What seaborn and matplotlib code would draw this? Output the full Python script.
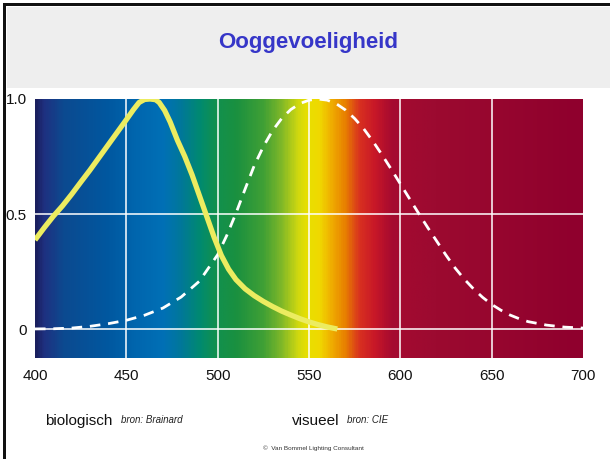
import numpy as np
import pandas as pd
import matplotlib
matplotlib.use("Agg")
import matplotlib.pyplot as plt
from matplotlib.colors import LinearSegmentedColormap
from matplotlib.patches import Rectangle
import seaborn as sns

# ---- data ----
bio_wl = [400, 405, 410, 415, 420, 425, 430, 435, 440, 445, 450, 454, 457, 460, 463, 466, 468,
          471, 474, 478, 482, 486, 490, 494, 498, 502, 506, 510, 515, 520, 525, 530, 535, 540,
          545, 550, 555, 560, 565.5]
bio_val = [0.387, 0.44, 0.49, 0.535, 0.585, 0.638, 0.69, 0.745, 0.80, 0.855, 0.91, 0.955, 0.985,
           0.998, 1.0, 0.997, 0.985, 0.95, 0.90, 0.82, 0.75, 0.67, 0.58, 0.49, 0.40, 0.32, 0.26,
           0.215, 0.175, 0.145, 0.12, 0.098, 0.078, 0.061, 0.045, 0.031, 0.019, 0.009, 0.0]

vis_wl = [400, 410, 420, 430, 440, 450, 460, 470, 480, 490, 500, 505, 510, 515, 520, 525, 530,
          535, 540, 545, 550, 555, 560, 565, 570, 575, 580, 585, 590, 595, 600, 605, 610, 615,
          620, 625, 630, 635, 640, 645, 650, 655, 660, 665, 670, 680, 690, 700]
vis_val = [0.0004, 0.0012, 0.004, 0.0116, 0.023, 0.038, 0.060, 0.091, 0.139, 0.208, 0.323, 0.407,
           0.503, 0.608, 0.710, 0.793, 0.862, 0.915, 0.954, 0.980, 0.995, 1.0, 0.995, 0.979, 0.952,
           0.915, 0.870, 0.816, 0.757, 0.695, 0.631, 0.567, 0.503, 0.441, 0.381, 0.321, 0.265,
           0.217, 0.175, 0.138, 0.107, 0.082, 0.061, 0.045, 0.032, 0.017, 0.0082, 0.0041]

x_ticks = [400, 450, 500, 550, 600, 650, 700]
y_ticks = [0, 0.5, 1.0]
y_tick_labels = ["0", "0.5", "1.0"]

title = "Ooggevoeligheid"
label_bio = "biologisch"
src_bio = "bron: Brainard"
label_vis = "visueel"
src_vis = "bron: CIE"
copyright_text = "\u00a9  Van Bommel Lighting Consultant"

# spectrum colour stops (wavelength, colour)
spec_wl = [400, 404, 415, 440, 455, 470, 480, 490, 498, 510, 525, 535, 544, 549, 556, 562, 570, 578, 586, 596, 620, 700]
spec_col = ["#1a1f5e", "#1f3080", "#0c4a90", "#0058a0", "#0066ae", "#0070b6", "#007898", "#008a70",
            "#119050", "#1a9040", "#40a035", "#80b828", "#d0d810", "#e8e000", "#f0d800", "#f0b000",
            "#e88000", "#d83020", "#c81828", "#a50a30", "#9c0a30", "#8f002d"]

# ---- figure ----
sns.set_style("white")
plt.rcParams["font.family"] = ["Liberation Sans", "DejaVu Sans"]

W, H = 610, 459
fig = plt.figure(figsize=(W / 100, H / 100), dpi=100)
fig.patch.set_facecolor("white")

# title band and frame
fig.add_artist(Rectangle((7 / W, 1 - 88 / H), 1, 81 / H, transform=fig.transFigure,
                         facecolor="#eeeeee", edgecolor="none", zorder=0))
fig.add_artist(Rectangle((3 / W, 0), 3 / W, 1 - 3 / H, transform=fig.transFigure,
                         facecolor="#111111", edgecolor="none", zorder=1))
fig.add_artist(Rectangle((3 / W, 1 - 6 / H), 1, 3 / H, transform=fig.transFigure,
                         facecolor="#111111", edgecolor="none", zorder=1))

fig.text(308 / W, 1 - 48 / H, title, ha="center", va="baseline",
         fontsize=16, fontweight="bold", color="#3636c8")

ax = fig.add_axes([35 / W, 1 - 358 / H, 548 / W, 259 / H])
xmin, xmax = 400, 700
ymin, ymax = -0.126, 1.0

# spectrum background
pos = [(w - xmin) / (xmax - xmin) for w in spec_wl]
cmap = LinearSegmentedColormap.from_list("spec", list(zip(pos, spec_col)))
grad = np.linspace(0, 1, 600)[None, :]
ax.imshow(grad, cmap=cmap, aspect="auto", extent=[xmin, xmax, ymin, ymax],
          interpolation="bilinear", zorder=0)

df_bio = pd.DataFrame({"wl": bio_wl, "v": bio_val})
df_vis = pd.DataFrame({"wl": vis_wl, "v": vis_val})

sns.lineplot(data=df_vis, x="wl", y="v", ax=ax, color="white", lw=2.0,
             linestyle=(0, (3.8, 2.8)), zorder=3, sort=False)
sns.lineplot(data=df_bio, x="wl", y="v", ax=ax, color="#ecec60", lw=3.8,
             solid_capstyle="butt", solid_joinstyle="round", zorder=4, sort=False)

ax.set_xlim(xmin, xmax)
ax.set_ylim(ymin, ymax)
ax.set_xticks(x_ticks)
ax.set_yticks(y_ticks)
ax.set_yticklabels(y_tick_labels)
ax.set_xlabel("")
ax.set_ylabel("")
ax.tick_params(axis="both", length=0, labelsize=11, colors="#111111")
ax.tick_params(axis="x", pad=8)
ax.tick_params(axis="y", pad=6)
ax.grid(True, color="white", lw=1.1, zorder=2)
ax.set_axisbelow(False)
for sp in ax.spines.values():
    sp.set_visible(False)
# hide grid lines lying on the plot border
xg = ax.xaxis.get_gridlines()
xg[0].set_visible(False)
xg[-1].set_visible(False)
ax.yaxis.get_gridlines()[-1].set_visible(False)

# bottom labels
fig.text(45 / W, 1 - 425 / H, label_bio, ha="left", va="baseline", fontsize=11, color="#111111")
fig.text(121 / W, 1 - 423 / H, src_bio, ha="left", va="baseline", fontsize=7,
         style="italic", color="#222222")
fig.text(292 / W, 1 - 425 / H, label_vis, ha="left", va="baseline", fontsize=11, color="#111111")
fig.text(347 / W, 1 - 423 / H, src_vis, ha="left", va="baseline", fontsize=7,
         style="italic", color="#222222")
fig.text(313 / W, 1 - 448 / H, copyright_text, ha="center", va="center", fontsize=4.6,
         color="#333333")

fig.savefig("out.png", dpi=100)
